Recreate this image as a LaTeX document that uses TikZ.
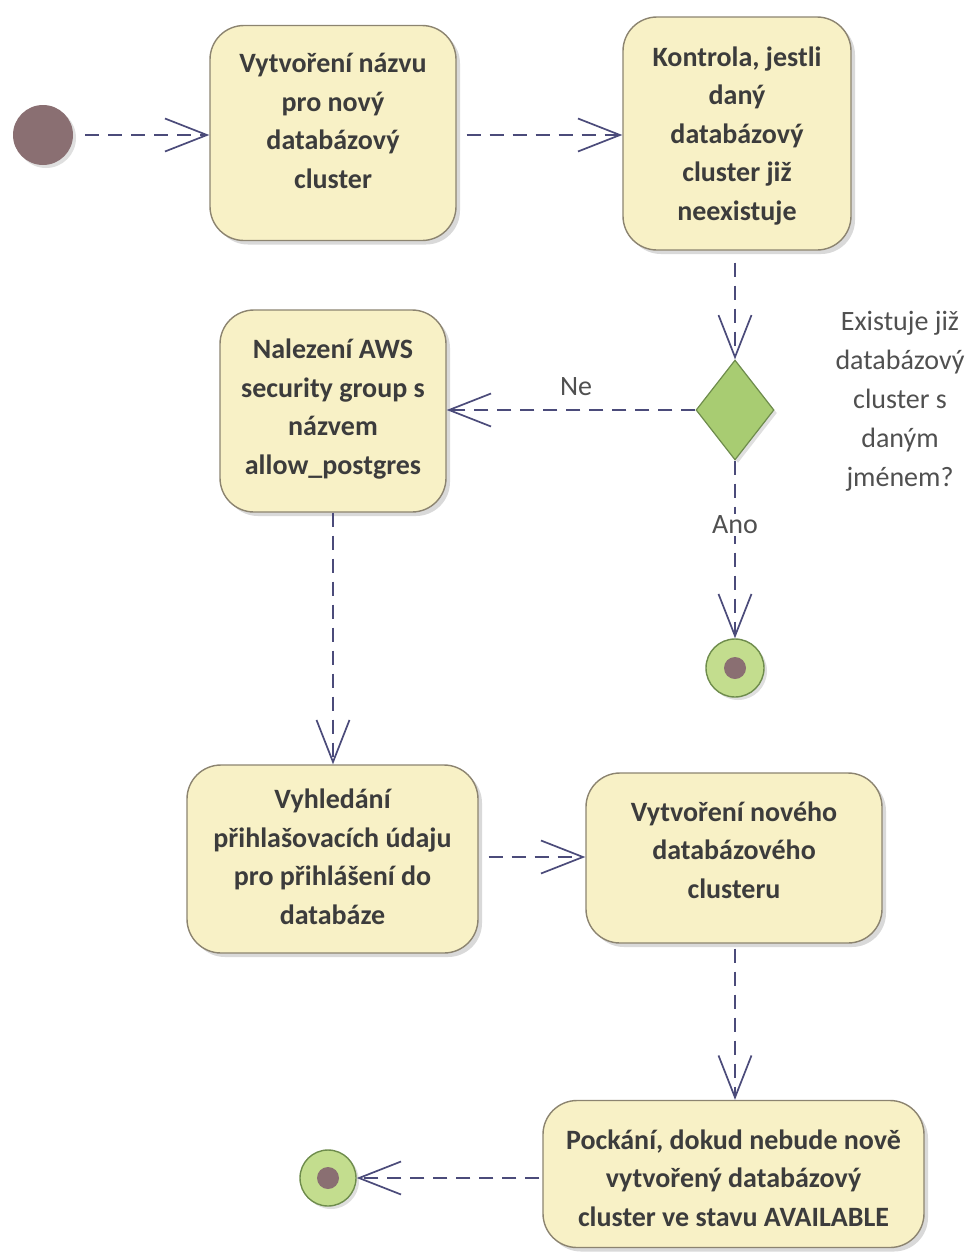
\documentclass[tikz,border=0pt]{standalone}
\usepackage{fontspec}
\setmainfont{Carlito}
\usetikzlibrary{arrows.meta,shapes.geometric,shadows}

\definecolor{actfill}{HTML}{F8F1C6}
\definecolor{actdraw}{HTML}{8C8470}
\definecolor{txt}{HTML}{3C3C3C}
\definecolor{flowc}{HTML}{4B4B7A}
\definecolor{startc}{HTML}{8A6F72}
\definecolor{greenf}{HTML}{A8CC72}
\definecolor{greend}{HTML}{6E8C4C}
\definecolor{finalf}{HTML}{C3DD8E}

% centred block of lines, raised by #1 without changing its size
\newcommand{\actlines}[2]{\raisebox{#1}[\height][\depth]{\begin{tabular}{@{}c@{}}#2\end{tabular}}}

\tikzset{
  activity/.style={draw=actdraw, line width=1.4pt, fill=actfill, rounded corners=34pt,
    align=center, text=txt, font=\fontsize{28}{38.5}\selectfont\bfseries, inner sep=0pt,
    drop shadow={shadow xshift=4pt, shadow yshift=-4pt, opacity=0.3, fill=gray}},
  initial/.style={circle, fill=startc, minimum size=60pt, inner sep=0pt,
    drop shadow={shadow xshift=3pt, shadow yshift=-3pt, opacity=0.25, fill=gray}},
  finalnode/.style={circle, draw=greend, line width=1.4pt, fill=finalf, minimum size=58pt, inner sep=0pt,
    path picture={\fill[startc] (path picture bounding box.center) circle (11pt);},
    drop shadow={shadow xshift=3pt, shadow yshift=-3pt, opacity=0.25, fill=gray}},
  decision/.style={diamond, aspect=0.78, draw=greend, line width=1.2pt, fill=greenf,
    minimum width=78pt, minimum height=100pt, inner sep=0pt,
    drop shadow={shadow xshift=3pt, shadow yshift=-3pt, opacity=0.25, fill=gray}},
  flow/.style={draw=flowc, line width=1.7pt, dash pattern=on 14pt off 9pt,
    -{Straight Barb[length=42pt, width=33pt, line width=1.7pt]}},
  guard/.style={text=txt!90, font=\fontsize{28}{39}\selectfont},
}

\begin{document}
\begin{tikzpicture}[x=1pt, y=-1pt]
  \useasboundingbox (0,0) rectangle (970,1254);

  % start and first two actions
  \node[initial] (start) at (43,135) {};
  \node[activity, minimum width=246pt, minimum height=215pt] (b1) at (333,133)
    {\actlines{10pt}{Vytvoření názvu\\pro nový\\databázový\\cluster}};
  \node[activity, minimum width=228pt, minimum height=233pt] (b2) at (737,133.5)
    {\actlines{-2pt}{Kontrola, jestli\\daný\\databázový\\cluster již\\neexistuje}};

  % decision
  \node[decision] (dec) at (735,410) {};
  \node[guard, align=center] (q) at (900,401)
    {Existuje již\\databázový\\cluster s\\daným\\jménem?};

  \node[activity, minimum width=226pt, minimum height=202pt] (b3) at (333,411)
    {\actlines{2pt}{Nalezení AWS\\security group s\\názvem\\allow\_postgres}};
  \node[finalnode] (end1) at (735,668) {};

  % lower actions
  \node[activity, minimum width=291pt, minimum height=188pt] (b4) at (332.5,859)
    {\actlines{0pt}{Vyhledání\\přihlašovacích údaju\\pro přihlášení do\\databáze}};
  \node[activity, minimum width=296pt, minimum height=170pt] (b5) at (734,858)
    {\actlines{6pt}{Vytvoření nového\\databázového\\clusteru}};
  \node[activity, minimum width=381pt, minimum height=147pt] (b6) at (733.5,1174)
    {\actlines{-6pt}{Pockání, dokud nebude nově\\vytvořený databázový\\cluster ve stavu AVAILABLE}};
  \node[finalnode, minimum size=56pt] (end2) at (328,1178) {};

  % control flows
  \draw[flow, shorten <=12pt] (start) -- (b1.west |- start);
  \draw[flow, shorten <=10pt] (b1.east |- start) -- (b2.west |- start);
  \draw[flow, shorten <=12pt] (b2.south -| dec) -- (dec.north);
  \draw[flow] (dec.west) -- node[guard, above=10pt, pos=0.48] {Ne} (b3.east |- dec);
  \draw[flow] (dec.south) -- node[guard, fill=white, inner sep=2pt, pos=0.36] {Ano} (end1.north);
  \draw[flow] (b3.south) -- (b4.north -| b3);
  \draw[flow, shorten <=10pt] (b4.east |- 0,857) -- (b5.west |- 0,857);
  \draw[flow, shorten <=5pt] (b5.south -| dec) -- (b6.north -| dec);
  \draw[flow, shorten <=3pt] (b6.west |- end2) -- (end2.east);
\end{tikzpicture}
\end{document}
